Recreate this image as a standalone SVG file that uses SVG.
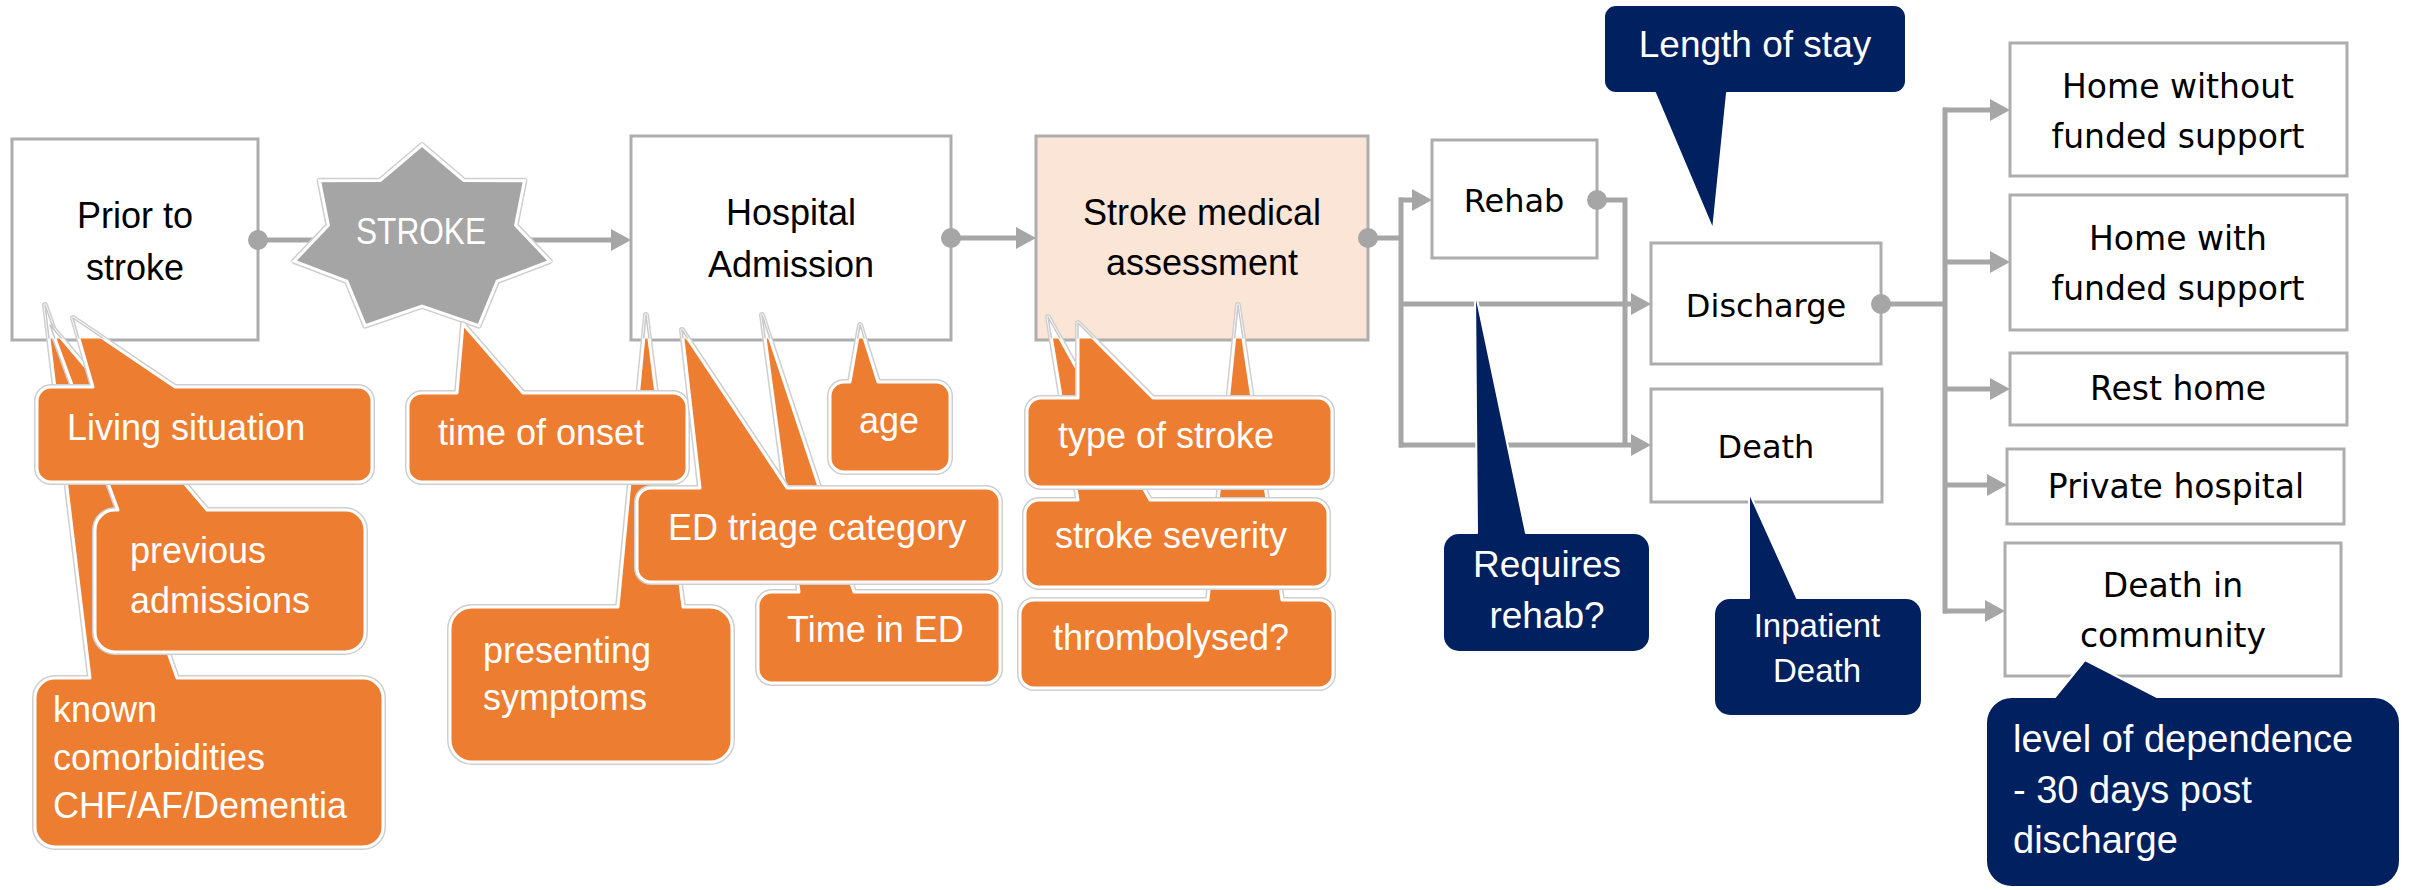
<svg xmlns="http://www.w3.org/2000/svg" xmlns:xlink="http://www.w3.org/1999/xlink" width="2412" height="890" viewBox="0 0 2412 890">
<style>
.bx{fill:#fff;stroke:#ADADAD;stroke-width:3}
.pk{fill:#FBE5D6}
.tl{font-family:"Liberation Sans",Arial,sans-serif;font-size:36px;fill:#000;text-anchor:middle}
.tr{font-family:"DejaVu Sans",Verdana,sans-serif;font-size:33px;fill:#000;text-anchor:middle}
.tm{font-size:32px}
.to{font-family:"Liberation Sans",Arial,sans-serif;font-size:36px;fill:#fff}
.tn{font-family:"Liberation Sans",Arial,sans-serif;font-size:37px;fill:#fff;text-anchor:middle}
.halo{fill:none;stroke:#CFCFCF;stroke-width:6;stroke-linejoin:round}
.co{fill:#ED7D31;stroke:#fff;stroke-width:3;stroke-linejoin:round}
.nv{fill:#002060;stroke:#fff;stroke-width:2;stroke-linejoin:round}
.tipw{fill:#fff;stroke:#C8C8C8;stroke-width:1.5;stroke-linejoin:round}
.ln{fill:none;stroke:#A6A6A6;stroke-width:5}
.dot{fill:#A6A6A6}
</style>
<defs>
<marker id="ah" markerUnits="userSpaceOnUse" markerWidth="20" markerHeight="22" refX="10" refY="11" orient="auto" viewBox="0 0 20 22"><path d="M0,0 L20,11 L0,22 Z" fill="#A6A6A6"/></marker>
<path id="p-known" d="M55,678 H90 L45,305 L177,678 H363 A20,20 0 0 1 383,698 V827 A20,20 0 0 1 363,847 H55 A20,20 0 0 1 35,827 V698 A20,20 0 0 1 55,678 Z"/>
<path id="p-prev" d="M115,510 H118 L50,325 L207,510 H345 A20,20 0 0 1 365,530 V632 A20,20 0 0 1 345,652 H115 A20,20 0 0 1 95,632 V530 A20,20 0 0 1 115,510 Z"/>
<path id="p-living" d="M51,387 H93 L73,318 L175,387 H358 A14,14 0 0 1 372,401 V468 A14,14 0 0 1 358,482 H51 A14,14 0 0 1 37,468 V401 A14,14 0 0 1 51,387 Z"/>
<path id="p-pres" d="M472,607 H618 L646,315 L683,607 H710 A22,22 0 0 1 732,629 V740 A22,22 0 0 1 710,762 H472 A22,22 0 0 1 450,740 V629 A22,22 0 0 1 472,607 Z"/>
<path id="p-onset" d="M422,393 H457 L463,324 L523,393 H673 A14,14 0 0 1 687,407 V468 A14,14 0 0 1 673,482 H422 A14,14 0 0 1 408,468 V407 A14,14 0 0 1 422,393 Z"/>
<path id="p-timeed" d="M772,592 H799 L762,315 L854,592 H986 A14,14 0 0 1 1000,606 V669 A14,14 0 0 1 986,683 H772 A14,14 0 0 1 758,669 V606 A14,14 0 0 1 772,592 Z"/>
<path id="p-triage" d="M651,488 H700 L682,330 L787,488 H986 A14,14 0 0 1 1000,502 V568 A14,14 0 0 1 986,582 H651 A14,14 0 0 1 637,568 V502 A14,14 0 0 1 651,488 Z"/>
<path id="p-age" d="M844,382 H850 L860,325 L878,382 H936 A14,14 0 0 1 950,396 V458 A14,14 0 0 1 936,472 H844 A14,14 0 0 1 830,458 V396 A14,14 0 0 1 844,382 Z"/>
<path id="p-thromb" d="M1034,600 H1208 L1238,305 L1282,600 H1319 A14,14 0 0 1 1333,614 V674 A14,14 0 0 1 1319,688 H1034 A14,14 0 0 1 1020,674 V614 A14,14 0 0 1 1034,600 Z"/>
<path id="p-sev" d="M1039,500 H1078 L1048,317 L1150,500 H1314 A14,14 0 0 1 1328,514 V573 A14,14 0 0 1 1314,587 H1039 A14,14 0 0 1 1025,573 V514 A14,14 0 0 1 1039,500 Z"/>
<path id="p-type" d="M1041,398 H1078 L1078,323 L1153,398 H1318 A14,14 0 0 1 1332,412 V473 A14,14 0 0 1 1318,487 H1041 A14,14 0 0 1 1027,473 V412 A14,14 0 0 1 1041,398 Z"/>
<polygon id="p-star" points="422,145 463.7,180.5 524.4,180.8 515.6,225.3 549.7,261.1 497.1,281.2 478.8,325.6 422,306 365.2,325.6 346.9,281.2 294.3,261.1 328.4,225.3 319.6,180.8 380.3,180.5"/>
<clipPath id="inboxes">
<rect x="13.5" y="140.5" width="243" height="198"/>
<rect x="632.5" y="137.5" width="317" height="201"/>
<rect x="1037.5" y="137.5" width="329" height="201"/>
</clipPath>
</defs>
<rect width="2412" height="890" fill="#fff"/>

<g id="n-prior"><rect class="bx" x="12" y="139" width="246" height="201"/><text class="tl" x="135" y="228">Prior to</text><text class="tl" x="135" y="280">stroke</text></g>
<g id="n-hospital"><rect class="bx" x="631" y="136" width="320" height="204"/><text class="tl" x="791" y="225">Hospital</text><text class="tl" x="791" y="277">Admission</text></g>
<g id="n-assess"><rect class="bx pk" x="1036" y="136" width="332" height="204"/><text class="tl" x="1202" y="225">Stroke medical</text><text class="tl" x="1202" y="275">assessment</text></g>
<g id="n-rehab"><rect class="bx" x="1432" y="140" width="165" height="118"/><text class="tr tm" x="1514" y="212">Rehab</text></g>
<g id="n-discharge"><rect class="bx" x="1651" y="243" width="230" height="121"/><text class="tr tm" x="1766" y="317">Discharge</text></g>
<g id="n-death"><rect class="bx" x="1651" y="389" width="231" height="113"/><text class="tr tm" x="1766" y="458">Death</text></g>
<g id="n-homewo"><rect class="bx" x="2010" y="43" width="337" height="133"/><text class="tr" x="2178" y="98">Home without</text><text class="tr" x="2178" y="148">funded support</text></g>
<g id="n-homew"><rect class="bx" x="2010" y="195" width="337" height="135"/><text class="tr" x="2178" y="250">Home with</text><text class="tr" x="2178" y="300">funded support</text></g>
<g id="n-rest"><rect class="bx" x="2010" y="353" width="337" height="72"/><text class="tr" x="2178" y="400">Rest home</text></g>
<g id="n-private"><rect class="bx" x="2007" y="449" width="337" height="75"/><text class="tr" x="2176" y="498">Private hospital</text></g>
<g id="n-deathcomm"><rect class="bx" x="2005" y="543" width="336" height="133"/><text class="tr" x="2173" y="597">Death in</text><text class="tr" x="2173" y="647">community</text></g>

<g id="connectors">
<path class="ln" d="M258,240 H316"/>
<path class="ln" d="M530,240 H621" marker-end="url(#ah)"/>
<path class="ln" d="M951,238 H1026" marker-end="url(#ah)"/>
<path class="ln" d="M1368,238 H1401 M1401,197.5 V447.5"/>
<path class="ln" d="M1399,200 H1422" marker-end="url(#ah)"/>
<path class="ln" d="M1399,304 H1641" marker-end="url(#ah)"/>
<path class="ln" d="M1399,445 H1641" marker-end="url(#ah)"/>
<path class="ln" d="M1597,200 H1625 V445"/>
<path class="ln" d="M1881,304 H1945 M1945,107.5 V613.5"/>
<path class="ln" d="M1943,110 H2000" marker-end="url(#ah)"/>
<path class="ln" d="M1943,262 H2000" marker-end="url(#ah)"/>
<path class="ln" d="M1943,389 H2000" marker-end="url(#ah)"/>
<path class="ln" d="M1943,485 H1997" marker-end="url(#ah)"/>
<path class="ln" d="M1943,611 H1995" marker-end="url(#ah)"/>
<circle class="dot" cx="258" cy="240" r="10"/>
<circle class="dot" cx="951" cy="238" r="10"/>
<circle class="dot" cx="1368" cy="238" r="10"/>
<circle class="dot" cx="1597" cy="200" r="10"/>
<circle class="dot" cx="1881" cy="304" r="10"/>
</g>

<g id="n-stroke"><use xlink:href="#p-star" class="halo"/><use xlink:href="#p-star" fill="#A5A5A5" stroke="#fff" stroke-width="3"/><text x="421" y="244" font-family="Liberation Sans, Arial, sans-serif" font-size="37" fill="#fff" text-anchor="middle" textLength="130" lengthAdjust="spacingAndGlyphs">STROKE</text></g>

<g id="c-known"><use xlink:href="#p-known" class="halo"/><use xlink:href="#p-known" class="co"/><text class="to" x="53" y="722">known</text><text class="to" x="53" y="770">comorbidities</text><text class="to" x="53" y="818">CHF/AF/Dementia</text></g>
<g id="c-prev"><use xlink:href="#p-prev" class="halo"/><use xlink:href="#p-prev" class="co"/><text class="to" x="130" y="563">previous</text><text class="to" x="130" y="613">admissions</text></g>
<g id="c-living"><use xlink:href="#p-living" class="halo"/><use xlink:href="#p-living" class="co"/><text class="to" x="67" y="440">Living situation</text></g>
<g id="c-pres"><use xlink:href="#p-pres" class="halo"/><use xlink:href="#p-pres" class="co"/><text class="to" x="483" y="663">presenting</text><text class="to" x="483" y="710">symptoms</text></g>
<g id="c-onset"><use xlink:href="#p-onset" class="halo"/><use xlink:href="#p-onset" class="co"/><text class="to" x="438" y="445">time of onset</text></g>
<g id="c-timeed"><use xlink:href="#p-timeed" class="halo"/><use xlink:href="#p-timeed" class="co"/><text class="to" x="787" y="642">Time in ED</text></g>
<g id="c-triage"><use xlink:href="#p-triage" class="halo"/><use xlink:href="#p-triage" class="co"/><text class="to" x="668" y="540">ED triage category</text></g>
<g id="c-age"><use xlink:href="#p-age" class="halo"/><use xlink:href="#p-age" class="co"/><text class="to" x="889" y="433" text-anchor="middle">age</text></g>
<g id="c-thromb"><use xlink:href="#p-thromb" class="halo"/><use xlink:href="#p-thromb" class="co"/><text class="to" x="1053" y="650">thrombolysed?</text></g>
<g id="c-sev"><use xlink:href="#p-sev" class="halo"/><use xlink:href="#p-sev" class="co"/><text class="to" x="1055" y="548">stroke severity</text></g>
<g id="c-type"><use xlink:href="#p-type" class="halo"/><use xlink:href="#p-type" class="co"/><text class="to" x="1058" y="448">type of stroke</text></g>

<g id="c-tips" clip-path="url(#inboxes)">
<use xlink:href="#p-known" class="tipw"/><use xlink:href="#p-prev" class="tipw"/><use xlink:href="#p-living" class="tipw"/>
<use xlink:href="#p-pres" class="tipw"/><use xlink:href="#p-timeed" class="tipw"/><use xlink:href="#p-triage" class="tipw"/><use xlink:href="#p-age" class="tipw"/>
<use xlink:href="#p-thromb" class="tipw"/><use xlink:href="#p-sev" class="tipw"/><use xlink:href="#p-type" class="tipw"/>
</g>

<g id="c-los"><path class="nv" d="M1616,5 H1894 A12,12 0 0 1 1906,17 V81 A12,12 0 0 1 1894,93 H1727 L1713,230 L1655,93 H1616 A12,12 0 0 1 1604,81 V17 A12,12 0 0 1 1616,5 Z"/><text class="tn" x="1755" y="57">Length of stay</text></g>
<g id="c-requires"><path class="nv" d="M1459,533 H1477 L1475,290 L1526,533 H1634 A16,16 0 0 1 1650,549 V636 A16,16 0 0 1 1634,652 H1459 A16,16 0 0 1 1443,636 V549 A16,16 0 0 1 1459,533 Z"/><text class="tn" x="1547" y="577" font-size="36">Requires</text><text class="tn" x="1547" y="628" font-size="36">rehab?</text></g>
<g id="c-inpatient"><path class="nv" d="M1730,598 H1749 L1749,492 L1797,598 H1906 A16,16 0 0 1 1922,614 V700 A16,16 0 0 1 1906,716 H1730 A16,16 0 0 1 1714,700 V614 A16,16 0 0 1 1730,598 Z"/><text class="tn" x="1817" y="637" style="font-size:33px">Inpatient</text><text class="tn" x="1817" y="682" style="font-size:33px">Death</text></g>
<g id="c-dependence"><path class="nv" d="M2012,697 H2055 L2085,660 L2157,697 H2374 A26,26 0 0 1 2400,723 V861 A26,26 0 0 1 2374,887 H2012 A26,26 0 0 1 1986,861 V723 A26,26 0 0 1 2012,697 Z"/><text class="tn" x="2013" y="752" style="font-size:38px;text-anchor:start">level of dependence</text><text class="tn" x="2013" y="803" style="font-size:38px;text-anchor:start">- 30 days post</text><text class="tn" x="2013" y="853" style="font-size:38px;text-anchor:start">discharge</text></g>
</svg>
